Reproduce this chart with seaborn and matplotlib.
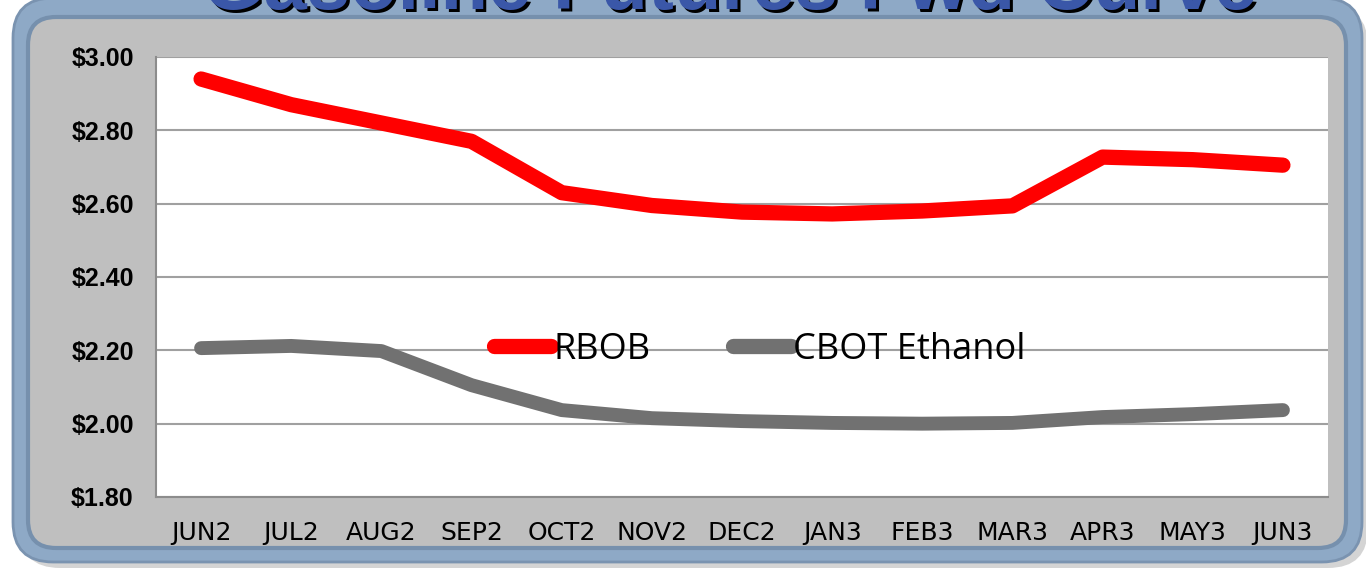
import numpy as np
import pandas as pd
import matplotlib.pyplot as plt
import seaborn as sns
from matplotlib.patches import FancyBboxPatch
from matplotlib.lines import Line2D

# data
months = ['JUN2', 'JUL2', 'AUG2', 'SEP2', 'OCT2', 'NOV2', 'DEC2',
          'JAN3', 'FEB3', 'MAR3', 'APR3', 'MAY3', 'JUN3']
rbob = [2.94, 2.87, 2.82, 2.77, 2.63, 2.595, 2.577, 2.572, 2.58, 2.594, 2.727, 2.72, 2.705]
ethanol = [2.206, 2.212, 2.198, 2.105, 2.037, 2.015, 2.007, 2.002, 2.0, 2.002, 2.018, 2.026, 2.037]
yticks = [1.80, 2.00, 2.20, 2.40, 2.60, 2.80, 3.00]

df = pd.DataFrame({'month': months * 2,
                   'price': rbob + ethanol,
                   'series': ['RBOB'] * len(months) + ['CBOT Ethanol'] * len(months)})

sns.set_style('white')
plt.rcParams['font.family'] = ['Liberation Sans', 'DejaVu Sans']
plt.rcParams['text.color'] = 'black'

fig = plt.figure(figsize=(13.66, 5.72), dpi=100)
fig.patch.set_facecolor('white')

# background frame, in pixel units
bg = fig.add_axes([0, 0, 1, 1], zorder=0)
bg.set_xlim(0, 1366)
bg.set_ylim(572, 0)
bg.axis('off')
bg.add_patch(FancyBboxPatch((20, 6), 1348, 562, boxstyle='round,pad=0,rounding_size=40',
                            fc='#b8b8b8', ec='none', alpha=0.6))
bg.add_patch(FancyBboxPatch((13, -2), 1349, 564, boxstyle='round,pad=0,rounding_size=40',
                            fc='#8ea9c6', ec='#7a93b0', lw=2))
bg.add_patch(FancyBboxPatch((28, 17), 1318, 531, boxstyle='round,pad=0,rounding_size=28',
                            fc='#bfbfbf', ec='#7690ad', lw=3))
ttl = 'Gasoline Futures Fwd Curve'
bg.text(733, 12, ttl, ha='center', va='baseline', fontsize=56, fontweight='bold', color='black')
bg.text(730, 9, ttl, ha='center', va='baseline', fontsize=56, fontweight='bold', color='#3a57a8')

ax = fig.add_axes([156 / 1366, 1 - 497 / 572, 1172 / 1366, 440 / 572], zorder=1)
ax.set_facecolor('white')
sns.lineplot(data=df, x='month', y='price', hue='series', palette=['#ff0000', '#717171'],
             sort=False, ax=ax, lw=11, solid_capstyle='round', legend=False)
ax.lines[1].set_linewidth(10)

ax.set_xlim(-0.5, len(months) - 0.5)
ax.set_ylim(1.80, 3.00)
ax.set_yticks(yticks)
ax.set_yticklabels(['${:.2f}'.format(v) for v in yticks], fontsize=18, fontweight='bold',
                   color='black')
ax.set_xticks(range(len(months)))
ax.set_xticklabels(months, fontsize=18, color='black', family=['DejaVu Sans'])
ax.set_xticks(np.arange(-0.5, len(months), 1), minor=True)
ax.tick_params(axis='x', which='major', length=0, pad=17)
ax.tick_params(axis='x', which='minor', length=6, color='#8c8c8c', width=1.2, direction='out')
ax.tick_params(axis='y', length=6, color='#8c8c8c', width=1.2, direction='out', pad=10)
ax.grid(axis='y', color='#a0a0a0', lw=1.5)
ax.set_axisbelow(True)
for s in ['top', 'right']:
    ax.spines[s].set_visible(False)
for s in ['left', 'bottom']:
    ax.spines[s].set_color('#8c8c8c')
    ax.spines[s].set_linewidth(1.5)
ax.set_xlabel('')
ax.set_ylabel('')

handles = [Line2D([], [], color='#ff0000', lw=11, solid_capstyle='round'),
           Line2D([], [], color='#717171', lw=11, solid_capstyle='round')]
leg = ax.legend(handles, ['RBOB', 'CBOT Ethanol'], loc='center', bbox_to_anchor=(0.515, 0.335),
                ncol=2, frameon=False, fontsize=26, handlelength=1.6, handletextpad=0.05,
                columnspacing=2.3)
for t in leg.get_texts():
    t.set_family(['Open Sans', 'DejaVu Sans'])
    t.set_color('black')

fig.savefig('out.png', dpi=100)
